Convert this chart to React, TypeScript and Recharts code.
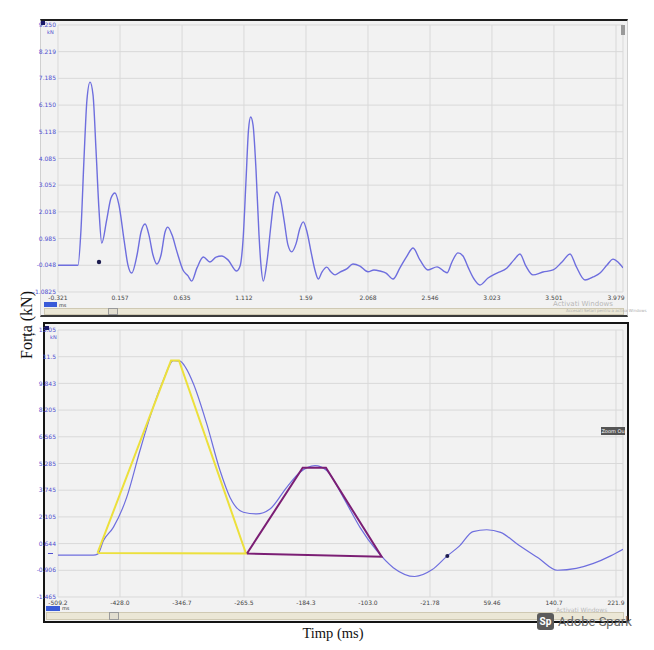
import React from "react";
import { ComposedChart, Line, XAxis, YAxis, CartesianGrid, ReferenceDot } from "recharts";

// top panel: full recording (time in s, force in kN)
const topTime = [
  -0.321, -0.167, -0.144, -0.121, -0.098, -0.074, -0.051, -0.028, -0.005, 0.016,
  0.054, 0.087, 0.118, 0.149, 0.188, 0.218, 0.247, 0.288, 0.319, 0.35,
  0.38, 0.411, 0.44, 0.473, 0.504, 0.525, 0.558, 0.596, 0.642, 0.681,
  0.709, 0.75, 0.799, 0.85, 0.897, 0.94, 0.989, 1.056, 1.082, 1.105,
  1.128, 1.147, 1.164, 1.182, 1.205, 1.228, 1.243, 1.261, 1.289, 1.32,
  1.343, 1.364, 1.39, 1.421, 1.451, 1.48, 1.513, 1.544, 1.569, 1.598,
  1.629, 1.659, 1.685, 1.713, 1.75, 1.783, 1.814, 1.852, 1.904, 1.952,
  2.006, 2.068, 2.114, 2.16, 2.207, 2.261, 2.314, 2.368, 2.415, 2.468,
  2.53, 2.6, 2.677, 2.715, 2.761, 2.8, 2.838, 2.885, 2.931, 2.993,
  3.062, 3.139, 3.193, 3.239, 3.285, 3.339, 3.416, 3.494, 3.563, 3.625,
  3.671, 3.74, 3.802, 3.856, 3.91, 3.956, 3.994, 4.033,
];
const topForce = [
  -0.05, -0.05, 1.32, 4.03, 6.35, 7.04, 6.54, 4.41, 2.09, 0.81,
  1.7, 2.55, 2.75, 2.28, 0.93, -0.04, -0.35, 0.35, 1.24, 1.55,
  1.12, 0.35, 0.0, 0.35, 1.24, 1.43, 1.12, 0.47, -0.23, -0.46,
  -0.66, -0.15, 0.27, 0.08, 0.27, 0.31, 0.16, -0.27, -0.08, 0.93,
  3.25, 5.19, 5.69, 5.38, 3.64, 1.12, -0.04, -0.66, 0.08, 1.51,
  2.48, 2.79, 2.59, 1.7, 0.74, 0.47, 0.78, 1.39, 1.63, 1.24,
  0.47, -0.23, -0.58, -0.31, -0.12, -0.31, -0.42, -0.31, -0.19, 0.0,
  -0.08, -0.3, -0.23, -0.27, -0.35, -0.58, -0.15, 0.31, 0.62, 0.16,
  -0.23, -0.11, -0.34, 0.08, 0.43, 0.31, -0.11, -0.58, -0.81, -0.54,
  -0.35, -0.15, 0.16, 0.39, -0.08, -0.42, -0.31, -0.23, 0.08, 0.39,
  -0.08, -0.62, -0.5, -0.35, -0.04, 0.19, 0.08, -0.15,
];
const topXTicks = [-0.321, 0.157, 0.635, 1.112, 1.59, 2.068, 2.546, 3.023, 3.501, 3.979];
const topXLabels = ["-0.321", "0.157", "0.635", "1.112", "1.59", "2.068", "2.546", "3.023", "3.501", "3.979"];
const topYTicks = [-1.0825, -0.048, 0.985, 2.018, 3.052, 4.085, 5.118, 6.15, 7.185, 8.219, 9.25];
const topYLabels = ["-1.0825", "-0.048", "0.985", "2.018", "3.052", "4.085", "5.118", "6.150", "7.185", "8.219", "9.250"];
const topMarker = { t: -0.005, f: 0.08 };

// bottom panel: zoomed impact (time in ms)
const botTime = [
  -509.2, -462.9, -456.8, -449.8, -436.7, -419.2, -401.8, -384.3, -371.2, -358.1,
  -349.3, -341.5, -331.9, -314.4, -296.9, -283.8, -266.4, -248.9, -231.4, -209.5,
  -192.1, -172.4, -157.1, -135.4, -113.5, -91.6, -69.9, -41.8, -19.3, 0.9,
  16.6, 34.6, 52.6, 70.7, 93.3, 120.3, 145.0, 169.8, 192.4, 214.9, 231.1,
];
const botForce = [
  0.81, 0.81, 0.88, 1.59, 2.32, 3.95, 6.5, 8.87, 10.32, 11.38,
  11.36, 10.98, 10.14, 7.96, 5.41, 3.95, 3.14, 3.05, 3.32, 4.5,
  5.32, 5.68, 5.41, 3.95, 2.32, 1.05, 0.13, -0.35, 0.01, 0.77,
  1.3, 2.09, 2.19, 2.05, 1.39, 0.65, -0.01, 0.09, 0.36, 0.77, 1.13,
];
const botXTicks = [-509.2, -428.0, -346.7, -265.5, -184.3, -103.0, -21.78, 59.46, 140.7, 221.9];
const botXLabels = ["-509.2", "-428.0", "-346.7", "-265.5", "-184.3", "-103.0", "-21.78", "59.46", "140.7", "221.9"];
const botYTicks = [-1.465, -0.013, 1.438, 2.89, 4.341, 5.793, 7.244, 8.696, 10.147, 11.599, 13.05];
const botYLabels = ["-1.465", "-0.906", "0.644", "2.105", "3.745", "5.285", "6.565", "8.205", "9.843", "11.5", "13.05"];
const botMarker = { t: 0.9, f: 0.77 };

// hand-drawn shapes over the bottom trace
const yellowTime = [-457.4, -361.1, -350.7, -262.9, -457.4];
const yellowForce = [0.93, 11.39, 11.39, 0.9, 0.93];
const purpleTime = [-261.6, -188.6, -158.1, -85.1, -261.6];
const purpleForce = [0.9, 5.56, 5.56, 0.72, 0.9];

const zip = (ts: number[], fs: number[]) => ts.map((t, i) => ({ t, f: fs[i] }));
const labelFor = (ticks: number[], labels: string[]) => (v: number) => {
  const i = ticks.findIndex((x) => Math.abs(x - v) < 1e-6);
  return i >= 0 ? labels[i] : String(v);
};

const tickFont = { fontSize: 6, fontFamily: "DejaVu Sans" };
const TRACE = "#6e6ede";

type PanelProps = {
  top: number;
  xDomain: [number, number];
  yDomain: [number, number];
  xTicks: number[];
  xLabels: string[];
  yTicks: number[];
  yLabels: string[];
  children: React.ReactNode;
};

function Panel({ top, xDomain, yDomain, xTicks, xLabels, yTicks, yLabels, children }: PanelProps) {
  return (
    <div style={{ position: "absolute", left: 20, top }}>
      <ComposedChart width={610} height={304} margin={{ top: 25, right: 7, bottom: 0, left: 0 }}>
        <CartesianGrid stroke="#d9d9d9" strokeWidth={1} />
        <XAxis
          dataKey="t"
          type="number"
          domain={xDomain}
          ticks={xTicks}
          interval={0}
          allowDataOverflow
          height={12}
          axisLine={false}
          tickLine={false}
          tickSize={0}
          tickMargin={4}
          tick={{ ...tickFont, fill: "#444" }}
          tickFormatter={labelFor(xTicks, xLabels)}
        />
        <YAxis
          type="number"
          domain={yDomain}
          ticks={yTicks}
          interval={0}
          allowDataOverflow
          width={38}
          axisLine={false}
          tickLine={false}
          tickSize={0}
          tickMargin={2}
          tick={{ ...tickFont, fill: "#4f4fd0" }}
          tickFormatter={labelFor(yTicks, yLabels)}
        />
        {children}
      </ComposedChart>
    </div>
  );
}

const abs = (s: React.CSSProperties): React.CSSProperties => ({ position: "absolute", ...s });

export default function App() {
  const topData = zip(topTime, topForce);
  const botData = zip(botTime, botForce);
  return (
    <div style={abs({ left: 0, top: 0, width: 654, height: 650, background: "#fff", overflow: "hidden" })}>
      {/* panel frames */}
      <div style={abs({ left: 40, top: 19, width: 588, height: 298, boxSizing: "border-box", background: "#f2f2f2", borderTop: "2px solid #1e1e1e", borderBottom: "2px solid #3a3a3a", borderLeft: "1px solid #d0d0d0", borderRight: "1px solid #d0d0d0" })} />
      <div style={abs({ left: 43, top: 322, width: 586, height: 301, boxSizing: "border-box", background: "#f2f2f2", border: "2px solid #141414" })} />

      {/* scroll strips */}
      <div style={abs({ left: 44, top: 308, width: 580, height: 7, boxSizing: "border-box", background: "#ebe7d6", border: "1px solid #cfc9b3" })} />
      <div style={abs({ left: 108, top: 308, width: 10, height: 7, boxSizing: "border-box", border: "1px solid #9a9a9a", background: "#e2ded0" })} />
      <div style={abs({ left: 46, top: 612, width: 578, height: 8, boxSizing: "border-box", background: "#ebe7d6", border: "1px solid #cfc9b3" })} />
      <div style={abs({ left: 109, top: 612, width: 10, height: 8, boxSizing: "border-box", border: "1px solid #9a9a9a", background: "#e2ded0" })} />

      <Panel top={0} xDomain={[-0.321, 4.033]} yDomain={[-1.0825, 9.25]} xTicks={topXTicks} xLabels={topXLabels} yTicks={topYTicks} yLabels={topYLabels}>
        <Line data={topData} dataKey="f" type="monotone" stroke={TRACE} strokeWidth={1.4} dot={false} isAnimationActive={false} />
        <ReferenceDot x={topMarker.t} y={topMarker.f} r={2.2} fill="#1c1c50" stroke="none" />
      </Panel>

      <Panel top={305} xDomain={[-509.2, 231.1]} yDomain={[-1.465, 13.05]} xTicks={botXTicks} xLabels={botXLabels} yTicks={botYTicks} yLabels={botYLabels}>
        <Line data={botData} dataKey="f" type="monotone" stroke={TRACE} strokeWidth={1.2} dot={false} isAnimationActive={false} />
        <Line data={zip(yellowTime, yellowForce)} dataKey="f" type="linear" stroke="#ece03c" strokeWidth={2} dot={false} isAnimationActive={false} />
        <Line data={zip(purpleTime, purpleForce)} dataKey="f" type="linear" stroke="#7b1e74" strokeWidth={2} dot={false} isAnimationActive={false} />
        <ReferenceDot x={botMarker.t} y={botMarker.f} r={2} fill="#1c1c50" stroke="none" />
      </Panel>

      {/* unit markers */}
      <div style={abs({ left: 41, top: 21, width: 4, height: 4, background: "#1a1a6a" })} />
      <div style={abs({ left: 47, top: 29, fontSize: 5, fontFamily: "DejaVu Sans", color: "#4f4fd0" })}>kN</div>
      <div style={abs({ left: 45, top: 326, width: 4, height: 4, background: "#1a1a6a" })} />
      <div style={abs({ left: 50, top: 334, fontSize: 5, fontFamily: "DejaVu Sans", color: "#4f4fd0" })}>kN</div>
      <div style={abs({ left: 48, top: 553, width: 5, height: 1, background: "#4f4fd0" })} />
      <div style={abs({ left: 44, top: 302, width: 13, height: 5, background: "#3a5bd8" })} />
      <div style={abs({ left: 59, top: 302, fontSize: 5, lineHeight: "6px", fontFamily: "DejaVu Sans", color: "#333" })}>ms</div>
      <div style={abs({ left: 46, top: 606, width: 14, height: 5, background: "#3a5bd8" })} />
      <div style={abs({ left: 62, top: 605, fontSize: 5, lineHeight: "6px", fontFamily: "DejaVu Sans", color: "#333" })}>ms</div>
      <div style={abs({ left: 621, top: 25, width: 4, height: 10, background: "#9a9a9a" })} />

      {/* screenshot overlays */}
      <div style={abs({ left: 553, top: 300, fontSize: 7, lineHeight: "8px", fontFamily: "DejaVu Sans", color: "#b8b8b8" })}>Activati Windows</div>
      <div style={abs({ left: 566, top: 308, fontSize: 4, lineHeight: "5px", fontFamily: "DejaVu Sans", color: "#b0b0b0" })}>Accesati Setari pentru a activa Windows</div>
      <div style={abs({ left: 556, top: 607, fontSize: 6, lineHeight: "6px", fontFamily: "DejaVu Sans", color: "#b8b8b8" })}>Activati Windows</div>
      <div style={abs({ left: 601, top: 427, width: 24, height: 8, background: "#555", color: "#fff", fontSize: 5, fontFamily: "DejaVu Sans", lineHeight: "8px", textAlign: "center", overflow: "hidden" })}>Zoom Ou</div>
      <div style={abs({ left: 537, top: 613, width: 17, height: 17, borderRadius: 3, background: "#5b5b5b", color: "#fff", fontSize: 10, fontWeight: 700, fontFamily: "Roboto", lineHeight: "17px", textAlign: "center" })}>Sp</div>
      <div style={abs({ left: 558, top: 613, fontSize: 13, fontFamily: "Roboto", color: "#6a6a6a", lineHeight: "17px" })}>Adobe Spark</div>

      {/* axis titles */}
      <div style={abs({ left: 27, top: 325, transform: "translate(-50%, -50%) rotate(-90deg)", whiteSpace: "nowrap", fontSize: 16, fontFamily: "Liberation Serif", color: "#111" })}>Forța (kN)</div>
      <div style={abs({ left: 333, top: 633, transform: "translate(-50%, -50%)", whiteSpace: "nowrap", fontSize: 14.5, fontFamily: "Liberation Serif", color: "#111" })}>Timp (ms)</div>
    </div>
  );
}
